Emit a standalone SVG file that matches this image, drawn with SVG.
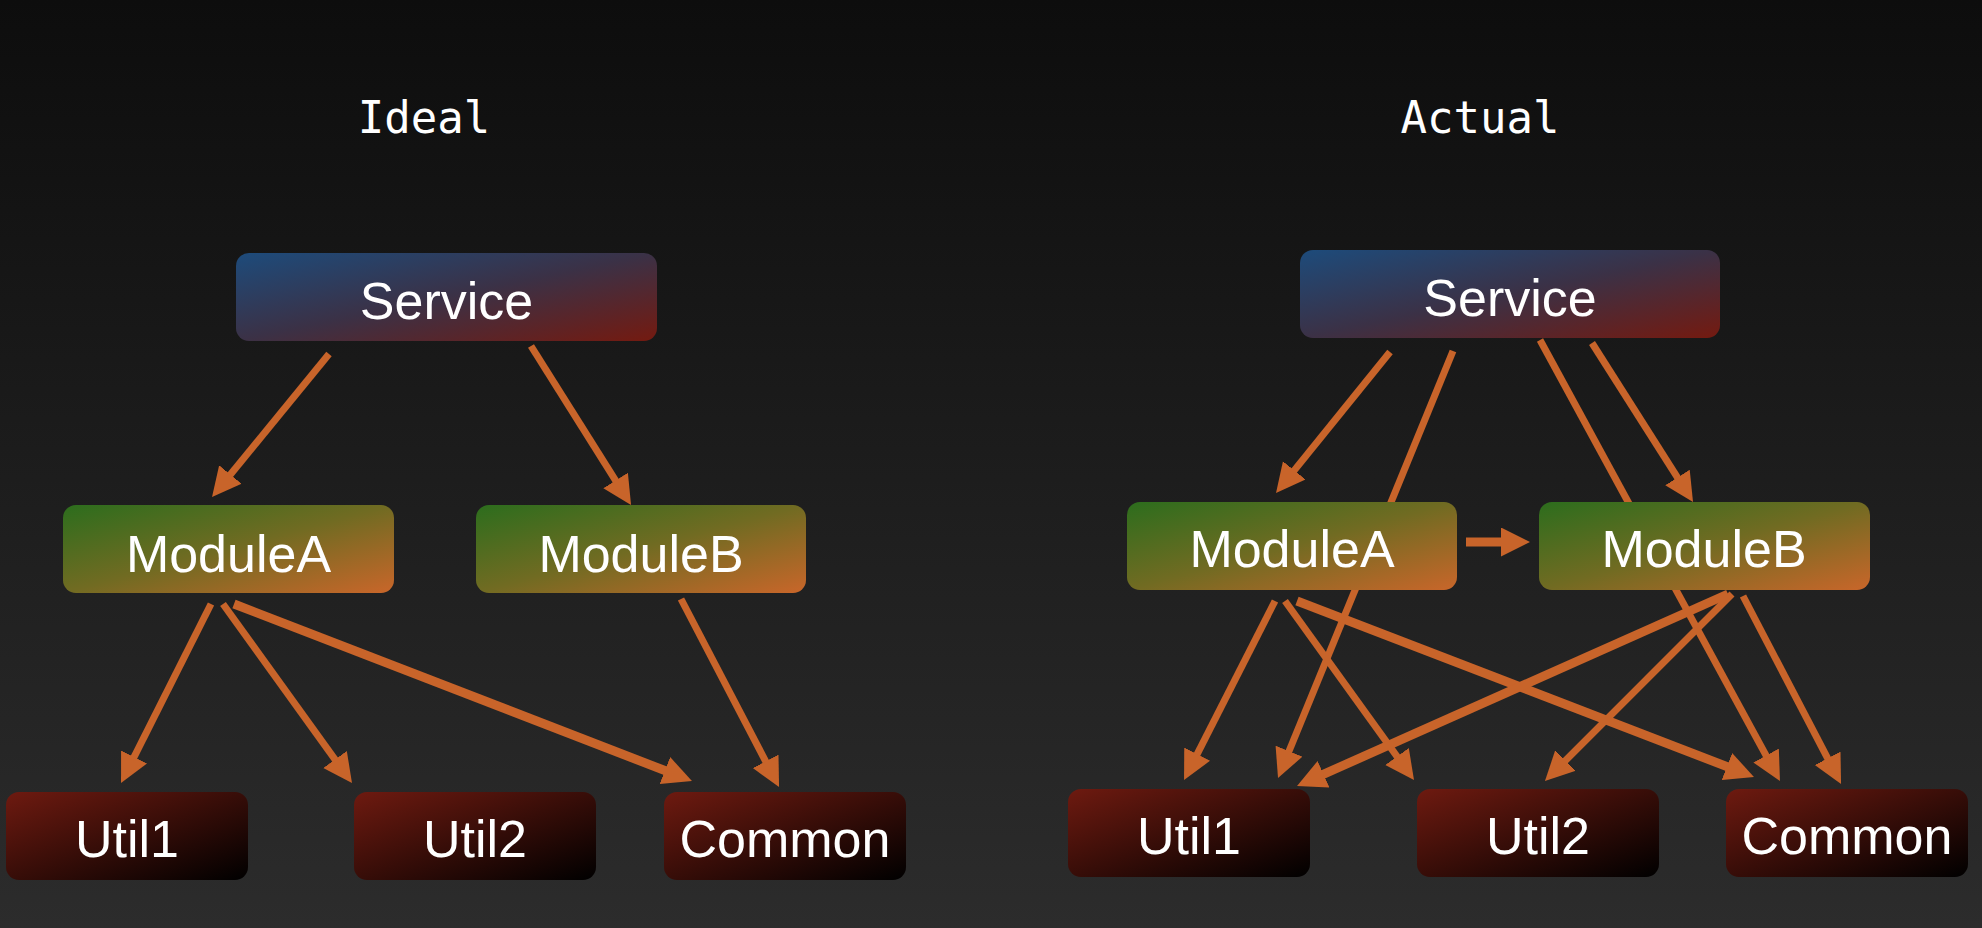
<svg xmlns="http://www.w3.org/2000/svg" width="1982" height="928" viewBox="0 0 1982 928">
<defs>
<linearGradient id="bg" x1="0" y1="0" x2="0" y2="1"><stop offset="0" stop-color="#0d0d0d"/><stop offset="1" stop-color="#2c2c2c"/></linearGradient>
<linearGradient id="gSvc" x1="0" y1="0" x2="1" y2="1"><stop offset="0" stop-color="#1d4b7b"/><stop offset="0.5" stop-color="#3b3146"/><stop offset="1" stop-color="#741a10"/></linearGradient>
<linearGradient id="gMod" x1="0" y1="0" x2="1" y2="1"><stop offset="0" stop-color="#2c6d1d"/><stop offset="0.5" stop-color="#716b22"/><stop offset="1" stop-color="#c9662a"/></linearGradient>
<linearGradient id="gUtil" x1="0" y1="0" x2="1" y2="1"><stop offset="0" stop-color="#6e1a10"/><stop offset="1" stop-color="#000000"/></linearGradient>
<marker id="ah" markerUnits="userSpaceOnUse" markerWidth="30" markerHeight="30" refX="9" refY="14.5" orient="auto" viewBox="0 0 30 30"><path d="M0,0 L29,14.5 L0,29 Z" fill="#c8642a"/></marker>
<style>
.title{font-family:"DejaVu Sans Mono",monospace;font-size:44px;fill:#ffffff;text-anchor:middle}
.lbl{font-family:"Liberation Sans",Arial,sans-serif;font-size:52px;fill:#ffffff;text-anchor:middle}
.c{stroke:#c8642a;stroke-width:7;fill:none;marker-end:url(#ah)}
.t{stroke-width:9}
</style>
</defs>
<rect width="1982" height="928" fill="url(#bg)"/>
<text class="title" x="424" y="133">Ideal</text>
<text class="title" x="1480" y="133">Actual</text>
<g id="connectors">
<line class="c" x1="329" y1="354" x2="224.7" y2="481.5"/>
<line class="c" x1="531" y1="346" x2="620.4" y2="488.1"/>
<line class="c" x1="211" y1="604" x2="130" y2="765.1"/>
<line class="c" x1="223" y1="604" x2="340.3" y2="766.8"/>
<line class="c t" x1="234" y1="604" x2="673.3" y2="773.8"/>
<line class="c" x1="681" y1="599" x2="769.8" y2="769.3"/>
<line class="c" x1="1390" y1="352" x2="1288.6" y2="477.4"/>
<line class="c" x1="1453" y1="351" x2="1285.6" y2="759.5"/>
<line class="c" x1="1540" y1="340" x2="1770.4" y2="763.4"/>
<line class="c" x1="1592" y1="343" x2="1682.3" y2="485.1"/>
<line class="c t" x1="1466" y1="542" x2="1510" y2="542"/>
<line class="c" x1="1275" y1="601" x2="1193.1" y2="762.2"/>
<line class="c" x1="1285" y1="601" x2="1402.3" y2="763.8"/>
<line class="c t" x1="1297" y1="601" x2="1735.3" y2="769.8"/>
<line class="c t" x1="1728" y1="594" x2="1315.3" y2="777.9"/>
<line class="c" x1="1732" y1="594" x2="1559.1" y2="766.9"/>
<line class="c" x1="1743" y1="596" x2="1831.8" y2="766.3"/>
</g>
<g id="ideal-service"><rect x="236" y="253" width="421" height="88" rx="13" fill="url(#gSvc)"/><text class="lbl" x="446.5" y="319">Service</text></g>
<g id="ideal-moduleA"><rect x="63" y="505" width="331" height="88" rx="13" fill="url(#gMod)"/><text class="lbl" x="228.5" y="572">ModuleA</text></g>
<g id="ideal-moduleB"><rect x="476" y="505" width="330" height="88" rx="13" fill="url(#gMod)"/><text class="lbl" x="641" y="572">ModuleB</text></g>
<g id="ideal-util1"><rect x="6" y="792" width="242" height="88" rx="13" fill="url(#gUtil)"/><text class="lbl" x="127" y="857">Util1</text></g>
<g id="ideal-util2"><rect x="354" y="792" width="242" height="88" rx="13" fill="url(#gUtil)"/><text class="lbl" x="475" y="857">Util2</text></g>
<g id="ideal-common"><rect x="664" y="792" width="242" height="88" rx="13" fill="url(#gUtil)"/><text class="lbl" x="785" y="857">Common</text></g>
<g id="actual-service"><rect x="1300" y="250" width="420" height="88" rx="13" fill="url(#gSvc)"/><text class="lbl" x="1510" y="316">Service</text></g>
<g id="actual-moduleA"><rect x="1127" y="502" width="330" height="88" rx="13" fill="url(#gMod)"/><text class="lbl" x="1292" y="567">ModuleA</text></g>
<g id="actual-moduleB"><rect x="1539" y="502" width="331" height="88" rx="13" fill="url(#gMod)"/><text class="lbl" x="1704" y="567">ModuleB</text></g>
<g id="actual-util1"><rect x="1068" y="789" width="242" height="88" rx="13" fill="url(#gUtil)"/><text class="lbl" x="1189" y="854">Util1</text></g>
<g id="actual-util2"><rect x="1417" y="789" width="242" height="88" rx="13" fill="url(#gUtil)"/><text class="lbl" x="1538" y="854">Util2</text></g>
<g id="actual-common"><rect x="1726" y="789" width="242" height="88" rx="13" fill="url(#gUtil)"/><text class="lbl" x="1847" y="854">Common</text></g>
</svg>
